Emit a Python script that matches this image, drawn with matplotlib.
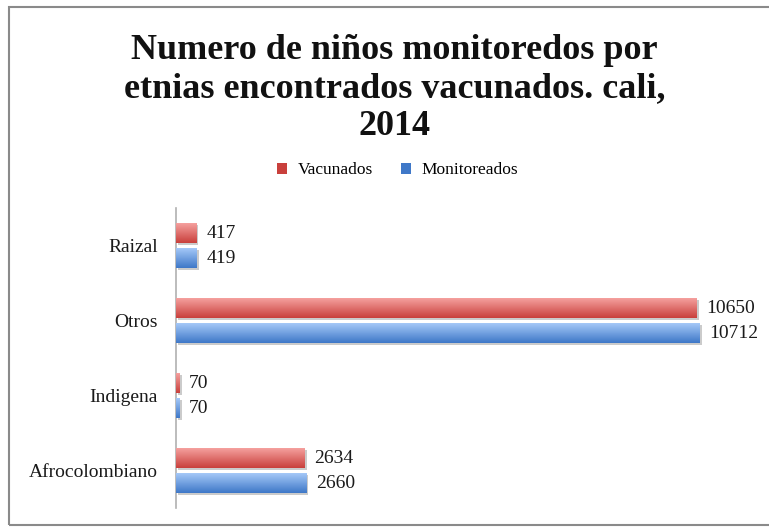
import matplotlib.pyplot as plt
import matplotlib.patheffects as pe
from matplotlib.patches import Rectangle
from matplotlib.colors import LinearSegmentedColormap
import numpy as np

categories = ['Afrocolombiano', 'Indigena', 'Otros', 'Raizal']
vacunados = [2634, 70, 10650, 417]
monitoreados = [2660, 70, 10712, 419]
series_names = ['Vacunados', 'Monitoreados']

title = 'Numero de niños monitoredos por\netnias encontrados vacunados. cali,\n2014'

SERIF = ['Liberation Serif', 'DejaVu Serif']
RED_TOP, RED_BOT = '#f7a5a3', '#c9403c'
BLUE_TOP, BLUE_BOT = '#a9ccfa', '#3f78c8'

fig = plt.figure(figsize=(7.69, 5.27), dpi=100)
ax = fig.add_axes([0.2289, 0.036, 0.763, 0.569])

y = np.arange(len(categories))
off = 0.167
h = 0.27

shadow = [pe.SimplePatchShadow(offset=(1.5, -1.5), shadow_rgbFace='#999999', alpha=0.5), pe.Normal()]
bars_v = ax.barh(y + off, vacunados, height=h, color=RED_BOT, path_effects=shadow, zorder=2)
bars_m = ax.barh(y - off, monitoreados, height=h, color=BLUE_BOT, path_effects=shadow, zorder=2)


def gradient_fill(bars, top, bot):
    # excel-style shading: light on top, darker at bottom
    grad = np.linspace(0, 1, 64).reshape(-1, 1)
    cmap = LinearSegmentedColormap.from_list('g', [bot, top])
    for b in bars:
        x0, y0 = b.get_x(), b.get_y()
        w, hh = b.get_width(), b.get_height()
        im = ax.imshow(grad, extent=[x0, x0 + w, y0, y0 + hh], origin='lower',
                       cmap=cmap, aspect='auto', zorder=3)
        im.set_clip_path(b)


gradient_fill(bars_v, RED_TOP, RED_BOT)
gradient_fill(bars_m, BLUE_TOP, BLUE_BOT)

for bars, vals in ((bars_v, vacunados), (bars_m, monitoreados)):
    for b, v in zip(bars, vals):
        ax.text(b.get_width() + 200, b.get_y() + b.get_height() / 2, str(v),
                va='center', ha='left', fontsize=14, family=SERIF, color='#1a1a1a')

ax.set_xlim(0, 12000)
ax.set_ylim(-0.5, 3.5)
ax.set_yticks(y)
ax.set_yticklabels(categories, family=SERIF, fontsize=14, color='#1a1a1a')
ax.tick_params(axis='y', length=0, pad=13)
ax.set_xticks([])
for s in ['top', 'right', 'bottom']:
    ax.spines[s].set_visible(False)
ax.spines['left'].set_color('#b0b0b0')
ax.spines['left'].set_linewidth(1.2)
ax.set_facecolor('none')

fig.text(0.513, 0.935, title, ha='center', va='top', fontsize=26,
         fontweight='bold', family=SERIF, linespacing=1.2, color='#111111')

# legend
leg_handles = [Rectangle((0, 0), 1, 1, facecolor=RED_BOT), Rectangle((0, 0), 1, 1, facecolor=BLUE_BOT)]
fig.legend(leg_handles, series_names, loc='center', bbox_to_anchor=(0.517, 0.677), ncol=2,
           frameon=False, prop={'family': SERIF, 'size': 12.5}, handlelength=0.6,
           handleheight=0.6, handletextpad=0.6, columnspacing=1.6)

fig.patches.append(Rectangle((0.0117, 0.0038), 1.2, 0.983, transform=fig.transFigure,
                             fill=False, edgecolor='#8a8a8a', linewidth=1.5))

fig.savefig('out.png', dpi=100)
